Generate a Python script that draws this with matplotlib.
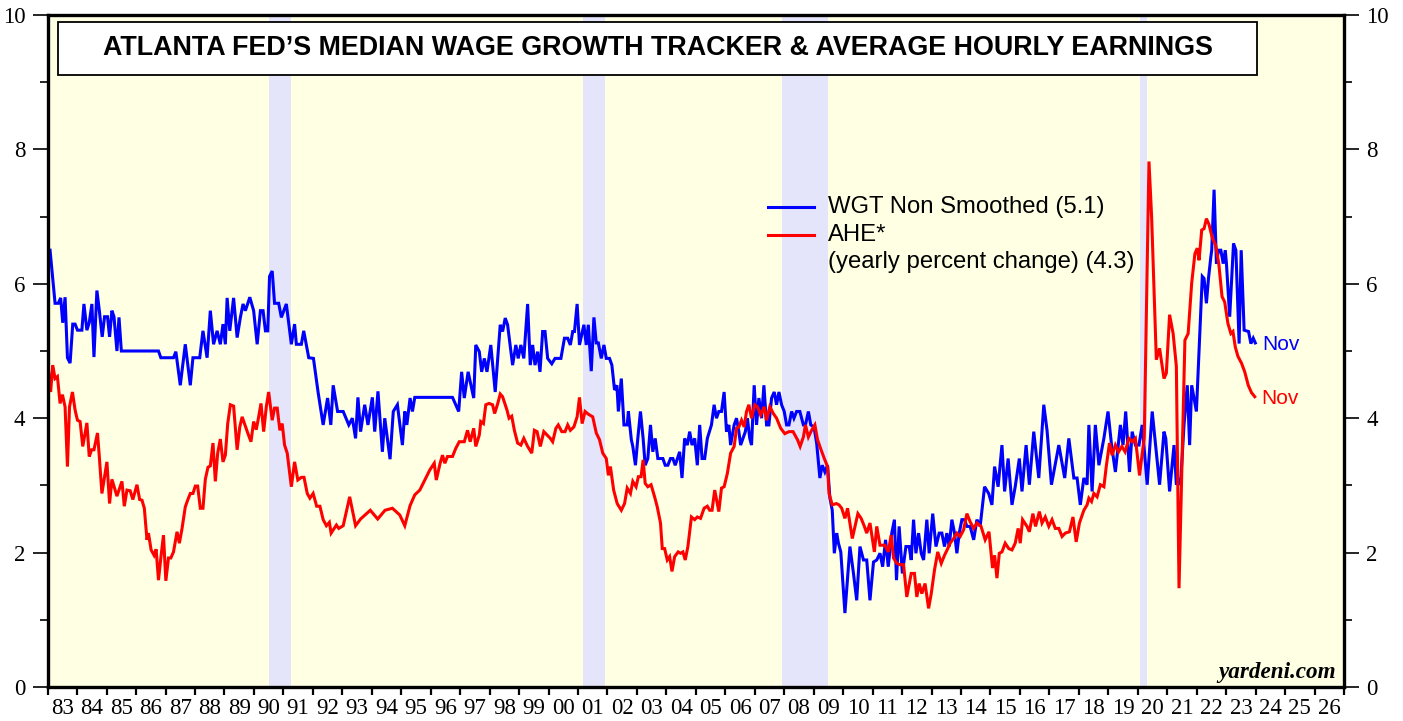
import numpy as np
import matplotlib.pyplot as plt
from matplotlib.patches import Rectangle

# WGT non smoothed (Atlanta Fed), decimal year / percent
wgt_t = [1983.08, 1983.25, 1983.36, 1983.44, 1983.51, 1983.59, 1983.67, 1983.76, 1983.85, 1983.93,
         1984.01, 1984.16, 1984.23, 1984.33, 1984.41, 1984.50, 1984.57, 1984.67, 1984.75, 1984.85,
         1984.93, 1985.03, 1985.10, 1985.18, 1985.25, 1985.35, 1985.42, 1985.50, 1986.76, 1986.84,
         1987.27, 1987.35, 1987.50, 1987.67, 1987.84, 1987.93, 1988.16, 1988.27, 1988.41, 1988.52,
         1988.63, 1988.75, 1988.86, 1988.95, 1989.03, 1989.09, 1989.18, 1989.31, 1989.43, 1989.54,
         1989.63, 1989.71, 1989.86, 1989.99, 1990.11, 1990.22, 1990.31, 1990.39, 1990.47, 1990.53,
         1990.62, 1990.70, 1990.84, 1990.93, 1991.10, 1991.27, 1991.38, 1991.44, 1991.61, 1991.69,
         1991.86, 1992.02, 1992.18, 1992.35, 1992.50, 1992.61, 1992.69, 1992.84, 1993.03, 1993.22,
         1993.34, 1993.45, 1993.53, 1993.62, 1993.76, 1993.87, 1994.02, 1994.10, 1994.21, 1994.36,
         1994.44, 1994.62, 1994.73, 1994.87, 1995.04, 1995.12, 1995.19, 1995.30, 1995.38, 1995.46,
         1996.74, 1996.85, 1996.95, 1997.05, 1997.14, 1997.27, 1997.46, 1997.53, 1997.65, 1997.73,
         1997.82, 1997.91, 1998.04, 1998.19, 1998.36, 1998.44, 1998.53, 1998.61, 1998.78, 1998.89,
         1998.97, 1999.06, 1999.16, 1999.29, 1999.38, 1999.46, 1999.54, 1999.63, 1999.71, 1999.80,
         1999.88, 1999.97, 2000.11, 2000.22, 2000.42, 2000.54, 2000.65, 2000.74, 2000.82, 2000.88,
         2000.97, 2001.05, 2001.20, 2001.28, 2001.35, 2001.45, 2001.54, 2001.62, 2001.69, 2001.79,
         2001.88, 2001.96, 2002.07, 2002.15, 2002.24, 2002.32, 2002.37, 2002.47, 2002.56, 2002.67,
         2002.71, 2002.81, 2002.86, 2002.95, 2003.03, 2003.12, 2003.21, 2003.28, 2003.37, 2003.46,
         2003.54, 2003.62, 2003.71, 2003.88, 2003.96, 2004.05, 2004.14, 2004.22, 2004.30, 2004.45,
         2004.53, 2004.62, 2004.71, 2004.79, 2004.87, 2004.96, 2005.05, 2005.13, 2005.21, 2005.30,
         2005.39, 2005.53, 2005.62, 2005.70, 2005.78, 2005.87, 2005.96, 2006.04, 2006.12, 2006.18,
         2006.30, 2006.38, 2006.46, 2006.52, 2006.60, 2006.68, 2006.75, 2006.83, 2006.89, 2006.98,
         2007.06, 2007.14, 2007.23, 2007.31, 2007.40, 2007.48, 2007.57, 2007.66, 2007.74, 2007.82,
         2007.91, 2008.00, 2008.08, 2008.16, 2008.25, 2008.33, 2008.42, 2008.53, 2008.65, 2008.72,
         2008.82, 2008.90, 2009.01, 2009.10, 2009.21, 2009.29, 2009.38, 2009.47, 2009.55, 2009.63,
         2009.70, 2009.78, 2009.84, 2009.92, 2010.06, 2010.23, 2010.35, 2010.46, 2010.57, 2010.69,
         2010.80, 2010.91, 2011.03, 2011.14, 2011.25, 2011.34, 2011.44, 2011.53, 2011.65, 2011.74,
         2011.81, 2011.90, 2012.01, 2012.13, 2012.24, 2012.31, 2012.39, 2012.47, 2012.56, 2012.65,
         2012.73, 2012.84, 2012.92, 2013.04, 2013.15, 2013.26, 2013.35, 2013.44, 2013.52, 2013.60,
         2013.69, 2013.78, 2013.86, 2013.94, 2014.03, 2014.12, 2014.20, 2014.31, 2014.43, 2014.54,
         2014.65, 2014.80, 2014.94, 2015.05, 2015.14, 2015.26, 2015.39, 2015.48, 2015.60, 2015.73,
         2015.84, 2015.98, 2016.07, 2016.21, 2016.32, 2016.47, 2016.64, 2016.81, 2016.92, 2017.07,
         2017.32, 2017.52, 2017.66, 2017.83, 2017.94, 2018.05, 2018.17, 2018.28, 2018.34, 2018.45,
         2018.56, 2018.68, 2018.85, 2018.99, 2019.11, 2019.24, 2019.41, 2019.50, 2019.59, 2019.72,
         2019.81, 2019.92, 2020.04, 2020.15, 2020.32, 2020.49, 2020.74, 2020.89, 2020.95, 2021.08,
         2021.23, 2021.31, 2021.38, 2021.45, 2021.57, 2021.68, 2021.76, 2021.83, 2021.99, 2022.19,
         2022.25, 2022.33, 2022.40, 2022.48, 2022.51, 2022.59, 2022.67, 2022.74, 2022.82, 2022.90,
         2022.97, 2023.01, 2023.12, 2023.25, 2023.33, 2023.44, 2023.51, 2023.61, 2023.76, 2023.84,
         2023.92, 2023.99]
wgt_v = [6.50, 5.71, 5.71, 5.79, 5.42, 5.80, 4.90, 4.82, 5.40, 5.40,
         5.31, 5.31, 5.70, 5.31, 5.42, 5.70, 4.91, 5.90, 5.61, 5.21,
         5.51, 5.51, 5.21, 5.60, 5.51, 5.00, 5.50, 5.00, 5.00, 4.90,
         4.90, 4.99, 4.49, 5.10, 4.49, 4.90, 4.90, 5.30, 4.90, 5.60,
         5.10, 5.30, 5.10, 5.40, 5.10, 5.79, 5.30, 5.79, 5.20, 5.50,
         5.70, 5.60, 5.80, 5.60, 5.10, 5.60, 5.60, 5.30, 5.30, 6.11,
         6.19, 5.71, 5.71, 5.50, 5.70, 5.10, 5.40, 5.10, 5.10, 5.30,
         4.90, 4.89, 4.38, 3.90, 4.30, 3.90, 4.49, 4.10, 4.10, 3.90,
         4.00, 3.70, 4.31, 3.80, 4.20, 3.90, 4.31, 3.80, 4.40, 3.50,
         4.00, 3.39, 4.10, 4.20, 3.60, 4.10, 3.90, 4.30, 4.10, 4.31,
         4.31, 4.20, 4.10, 4.69, 4.30, 4.69, 4.30, 5.09, 4.99, 4.69,
         4.89, 4.69, 5.09, 4.39, 5.39, 5.29, 5.49, 5.39, 4.79, 5.09,
         4.89, 5.09, 4.89, 5.70, 4.79, 5.09, 4.79, 4.99, 4.69, 5.29,
         5.29, 4.89, 4.81, 4.89, 4.89, 5.19, 5.19, 5.09, 5.29, 5.29,
         5.70, 5.09, 5.39, 5.09, 5.39, 4.70, 5.50, 5.12, 5.12, 4.89,
         5.09, 4.89, 4.89, 4.79, 4.42, 4.49, 4.10, 4.59, 3.90, 3.90,
         4.10, 3.68, 3.58, 3.30, 3.70, 4.10, 3.70, 3.30, 3.40, 3.90,
         3.50, 3.70, 3.40, 3.40, 3.30, 3.30, 3.40, 3.40, 3.30, 3.50,
         3.11, 3.70, 3.60, 3.80, 3.60, 3.70, 3.30, 3.90, 3.40, 3.40,
         3.70, 3.90, 4.20, 4.00, 4.10, 4.10, 4.39, 3.80, 3.90, 3.60,
         3.90, 4.00, 3.80, 3.60, 3.70, 3.80, 4.00, 3.70, 3.60, 4.49,
         3.90, 4.30, 4.00, 4.49, 3.90, 3.90, 4.30, 4.39, 4.20, 4.39,
         4.20, 4.10, 3.90, 3.90, 4.10, 4.00, 4.10, 4.10, 3.90, 3.90,
         4.10, 3.90, 3.87, 3.63, 3.11, 3.30, 3.20, 3.30, 2.81, 2.63,
         1.99, 2.29, 2.14, 2.01, 1.10, 2.09, 1.69, 1.29, 2.09, 1.89,
         1.89, 1.29, 1.86, 1.89, 1.99, 1.79, 2.19, 1.79, 2.29, 2.49,
         1.59, 2.39, 1.69, 2.09, 2.09, 1.89, 2.49, 1.99, 2.29, 1.99,
         1.89, 2.49, 1.99, 2.58, 2.09, 2.29, 2.29, 2.09, 2.29, 2.09,
         2.49, 2.29, 1.99, 2.29, 2.49, 2.49, 2.39, 2.39, 2.19, 2.49,
         2.39, 2.98, 2.88, 2.71, 3.28, 2.98, 3.60, 2.91, 3.40, 2.71,
         2.98, 3.40, 2.91, 3.60, 3.01, 3.80, 3.11, 4.20, 3.82, 3.01,
         3.60, 3.11, 3.70, 3.11, 3.11, 2.71, 3.11, 3.01, 3.90, 2.91,
         3.90, 3.30, 3.70, 4.10, 3.60, 3.20, 3.90, 3.60, 4.10, 3.20,
         3.80, 3.60, 3.60, 3.90, 3.01, 4.10, 3.01, 3.80, 3.70, 2.91,
         3.60, 3.01, 3.08, 3.01, 3.90, 4.49, 3.60, 4.49, 4.10, 6.11,
         6.08, 5.71, 6.08, 6.40, 6.50, 7.40, 6.30, 6.50, 6.50, 6.30,
         6.50, 6.30, 5.51, 6.60, 6.50, 5.11, 6.50, 5.31, 5.29, 5.11,
         5.19, 5.12]

# AHE, yearly percent change
ahe_t = [1983.00, 1983.10, 1983.17, 1983.25, 1983.33, 1983.42, 1983.50, 1983.59, 1983.67, 1983.74,
         1983.84, 1983.93, 1984.01, 1984.10, 1984.19, 1984.33, 1984.41, 1984.49, 1984.57, 1984.69,
         1984.75, 1984.84, 1985.01, 1985.10, 1985.18, 1985.35, 1985.52, 1985.60, 1985.69, 1985.80,
         1985.89, 1986.03, 1986.12, 1986.20, 1986.28, 1986.37, 1986.42, 1986.51, 1986.61, 1986.68,
         1986.76, 1986.84, 1986.93, 1987.01, 1987.10, 1987.18, 1987.27, 1987.39, 1987.47, 1987.56,
         1987.67, 1987.75, 1987.84, 1987.93, 1988.01, 1988.09, 1988.18, 1988.27, 1988.35, 1988.44,
         1988.52, 1988.61, 1988.69, 1988.77, 1988.86, 1988.95, 1989.03, 1989.11, 1989.20, 1989.31,
         1989.43, 1989.52, 1989.60, 1989.71, 1989.79, 1989.90, 1989.99, 1990.08, 1990.16, 1990.24,
         1990.33, 1990.42, 1990.50, 1990.62, 1990.70, 1990.79, 1990.88, 1990.96, 1991.04, 1991.13,
         1991.27, 1991.38, 1991.49, 1991.61, 1991.70, 1991.81, 1991.90, 1992.01, 1992.13, 1992.24,
         1992.35, 1992.46, 1992.56, 1992.62, 1992.71, 1992.80, 1992.88, 1993.03, 1993.25, 1993.45,
         1993.62, 1993.95, 1994.20, 1994.45, 1994.70, 1994.95, 1995.12, 1995.30, 1995.46, 1995.63,
         1995.80, 1995.97, 1996.12, 1996.19, 1996.32, 1996.40, 1996.48, 1996.57, 1996.74, 1996.85,
         1996.97, 1997.14, 1997.25, 1997.34, 1997.46, 1997.53, 1997.65, 1997.70, 1997.79, 1997.87,
         1997.98, 1998.10, 1998.17, 1998.27, 1998.36, 1998.44, 1998.59, 1998.66, 1998.75, 1998.84,
         1998.95, 1999.06, 1999.16, 1999.29, 1999.43, 1999.52, 1999.61, 1999.72, 1999.84, 1999.95,
         2000.06, 2000.14, 2000.25, 2000.33, 2000.45, 2000.56, 2000.65, 2000.74, 2000.86, 2000.97,
         2001.05, 2001.14, 2001.24, 2001.35, 2001.50, 2001.62, 2001.73, 2001.84, 2001.96, 2002.03,
         2002.10, 2002.21, 2002.33, 2002.47, 2002.58, 2002.67, 2002.78, 2002.86, 2002.97, 2003.05,
         2003.14, 2003.21, 2003.28, 2003.37, 2003.48, 2003.60, 2003.69, 2003.80, 2003.86, 2003.94,
         2004.03, 2004.11, 2004.19, 2004.28, 2004.40, 2004.48, 2004.56, 2004.64, 2004.73, 2004.85,
         2004.96, 2005.05, 2005.16, 2005.28, 2005.39, 2005.47, 2005.55, 2005.64, 2005.78, 2005.87,
         2005.96, 2006.07, 2006.18, 2006.30, 2006.38, 2006.46, 2006.55, 2006.64, 2006.72, 2006.80,
         2006.89, 2007.00, 2007.09, 2007.20, 2007.32, 2007.40, 2007.51, 2007.63, 2007.74, 2007.88,
         2008.02, 2008.16, 2008.30, 2008.45, 2008.54, 2008.65, 2008.72, 2008.82, 2008.93, 2009.04,
         2009.13, 2009.25, 2009.36, 2009.47, 2009.52, 2009.63, 2009.77, 2009.86, 2009.95, 2010.06,
         2010.15, 2010.31, 2010.50, 2010.61, 2010.72, 2010.80, 2010.91, 2011.06, 2011.14, 2011.25,
         2011.42, 2011.53, 2011.63, 2011.71, 2011.82, 2011.93, 2012.05, 2012.16, 2012.31, 2012.42,
         2012.50, 2012.58, 2012.67, 2012.78, 2012.90, 2012.99, 2013.10, 2013.21, 2013.33, 2013.44,
         2013.55, 2013.63, 2013.75, 2013.86, 2013.97, 2014.09, 2014.20, 2014.31, 2014.43, 2014.54,
         2014.68, 2014.82, 2014.95, 2015.07, 2015.14, 2015.22, 2015.30, 2015.39, 2015.50, 2015.62,
         2015.73, 2015.84, 2015.94, 2016.01, 2016.09, 2016.24, 2016.32, 2016.44, 2016.53, 2016.66,
         2016.75, 2016.86, 2016.98, 2017.09, 2017.20, 2017.32, 2017.43, 2017.54, 2017.68, 2017.80,
         2017.91, 2018.02, 2018.17, 2018.28, 2018.34, 2018.43, 2018.51, 2018.62, 2018.73, 2018.85,
         2018.93, 2019.04, 2019.13, 2019.24, 2019.35, 2019.46, 2019.57, 2019.70, 2019.81, 2019.92,
         2020.06, 2020.10, 2020.22, 2020.38, 2020.47, 2020.55, 2020.63, 2020.74, 2020.89, 2020.97,
         2021.08, 2021.20, 2021.31, 2021.40, 2021.60, 2021.71, 2021.83, 2021.94, 2022.02, 2022.08,
         2022.17, 2022.25, 2022.33, 2022.42, 2022.53, 2022.64, 2022.75, 2022.86, 2022.95, 2023.06,
         2023.16, 2023.23, 2023.31, 2023.40, 2023.52, 2023.63, 2023.75, 2023.86, 2023.97]
ahe_v = [4.83, 4.39, 4.79, 4.59, 4.62, 4.22, 4.35, 4.17, 3.28, 4.17,
         4.39, 4.12, 3.97, 3.95, 3.58, 3.93, 3.43, 3.53, 3.53, 3.78,
         3.44, 2.88, 3.35, 2.73, 3.09, 2.84, 3.06, 2.69, 2.93, 2.92,
         2.79, 3.01, 2.79, 2.78, 2.66, 2.19, 2.29, 2.04, 1.96, 2.05,
         1.59, 1.92, 2.26, 1.58, 1.92, 1.92, 2.01, 2.31, 2.14, 2.36,
         2.68, 2.78, 2.88, 2.88, 2.99, 2.99, 2.66, 2.66, 3.09, 3.27,
         3.29, 3.63, 3.06, 3.48, 3.69, 3.35, 3.45, 3.92, 4.20, 4.18,
         3.53, 3.87, 4.02, 3.88, 3.78, 3.65, 3.95, 3.83, 4.02, 4.22,
         3.80, 4.17, 4.39, 3.97, 4.15, 4.15, 3.82, 3.92, 3.60, 3.48,
         2.98, 3.35, 3.08, 3.12, 3.12, 2.88, 2.81, 2.88, 2.69, 2.69,
         2.49, 2.40, 2.45, 2.29, 2.35, 2.41, 2.36, 2.40, 2.83, 2.40,
         2.50, 2.63, 2.50, 2.63, 2.66, 2.56, 2.40, 2.70, 2.86, 2.93,
         3.08, 3.23, 3.33, 3.08, 3.33, 3.45, 3.33, 3.43, 3.43, 3.55,
         3.65, 3.65, 3.82, 3.65, 3.85, 3.58, 3.75, 3.95, 3.92, 4.20,
         4.22, 4.20, 4.07, 4.21, 4.36, 4.32, 4.12, 4.00, 4.03, 3.82,
         3.63, 3.60, 3.70, 3.58, 3.48, 3.82, 3.80, 3.58, 3.80, 3.75,
         3.70, 3.65, 3.85, 3.90, 3.80, 3.80, 3.90, 3.82, 3.87, 4.02,
         4.31, 3.92, 4.10, 4.06, 4.02, 3.78, 3.68, 3.48, 3.40, 3.15,
         3.28, 2.93, 2.73, 2.63, 2.73, 2.96, 2.88, 3.06, 2.98, 3.13,
         3.13, 3.38, 3.03, 2.98, 3.01, 2.83, 2.68, 2.44, 2.06, 2.06,
         1.89, 1.94, 1.72, 1.94, 2.01, 1.99, 2.01, 1.89, 2.09, 2.53,
         2.49, 2.53, 2.51, 2.66, 2.69, 2.63, 2.63, 2.93, 2.61, 2.96,
         2.98, 3.18, 3.48, 3.58, 3.85, 3.87, 3.97, 3.87, 4.10, 4.20,
         4.00, 4.20, 4.17, 4.05, 4.17, 3.97, 4.17, 4.07, 4.00, 3.85,
         3.77, 3.80, 3.80, 3.68, 3.58, 3.72, 3.90, 3.72, 3.82, 3.90,
         3.68, 3.53, 3.40, 3.28, 2.88, 2.71, 2.73, 2.71, 2.66, 2.51,
         2.66, 2.21, 2.58, 2.51, 2.39, 2.29, 2.44, 2.01, 2.39, 2.11,
         2.11, 2.01, 2.26, 1.92, 1.84, 1.82, 1.82, 1.34, 1.69, 1.69,
         1.34, 1.54, 1.39, 1.54, 1.17, 1.39, 1.74, 2.01, 1.84, 1.96,
         2.06, 2.14, 2.21, 2.29, 2.24, 2.34, 2.58, 2.46, 2.36, 2.44,
         2.39, 2.19, 2.31, 1.77, 1.96, 1.62, 1.99, 2.01, 2.14, 2.06,
         2.04, 2.14, 2.36, 2.14, 2.49, 2.39, 2.31, 2.58, 2.39, 2.61,
         2.44, 2.53, 2.39, 2.49, 2.36, 2.36, 2.24, 2.29, 2.31, 2.53,
         2.16, 2.44, 2.63, 2.71, 2.81, 2.76, 2.88, 2.83, 3.01, 2.98,
         3.28, 3.63, 3.45, 3.60, 3.50, 3.58, 3.50, 3.70, 3.65, 3.70,
         3.15, 3.30, 3.70, 7.82, 7.00, 5.91, 4.87, 5.04, 4.59, 4.67,
         5.54, 5.26, 4.77, 1.47, 5.16, 5.26, 6.01, 6.45, 6.53, 6.35,
         6.80, 6.82, 6.97, 6.88, 6.68, 6.58, 6.30, 5.81, 5.73, 5.41,
         5.26, 5.29, 5.06, 4.92, 4.82, 4.69, 4.49, 4.38, 4.32]

recessions = [(1990.50, 1991.25), (2001.17, 2001.92), (2007.92, 2009.50), (2020.08, 2020.33)]
years = list(range(1983, 2027))
last_wgt = 5.1
last_ahe = 4.3

BG = '#FFFFE3'
REC = '#E4E4FA'
BLUE = '#0000FF'
RED = '#FF0000'
sans = 'Liberation Sans'
serif = 'Liberation Serif'

fig = plt.figure(figsize=(14.03, 7.21), dpi=100)
ax = fig.add_axes([47.7 / 1403, 1 - 687 / 721, (1344 - 47.7) / 1403, 672 / 721])
ax.set_facecolor(BG)

for a, b in recessions:
    ax.axvspan(a, b, color=REC, lw=0, zorder=1)

ax.plot(wgt_t, wgt_v, color=BLUE, lw=2.2, zorder=3, solid_joinstyle='miter')
ax.plot(ahe_t, ahe_v, color=RED, lw=2.2, zorder=3, solid_joinstyle='miter')

ax.set_xlim(1983, 2027)
ax.set_ylim(0, 10)

# y axis both sides
ax.set_yticks(np.arange(0, 11, 2))
ax.set_yticks(np.arange(1, 10, 2), minor=True)
ax.tick_params(axis='y', which='major', direction='out', length=11, width=1.2,
               left=True, right=True, labelleft=True, labelright=True, pad=5,
               labelsize=16.5)
ax.tick_params(axis='y', which='minor', direction='out', length=5.5, width=1.2,
               left=True, right=True)

# x axis: ticks at year boundaries, labels centered in the year
ax.set_xticks(years + [2027])
ax.set_xticklabels([])
ax.set_xticks([y + 0.5 for y in years], minor=True)
ax.set_xticklabels([str(y)[2:] for y in years], minor=True)
ax.tick_params(axis='x', which='major', direction='out', length=6, width=1.6, top=False)
ax.tick_params(axis='x', which='minor', length=0, pad=8, labelsize=16.5)

for lab in ax.get_xticklabels(minor=True) + ax.yaxis.get_majorticklabels():
    lab.set_fontfamily(serif)
for lab in ax.yaxis.get_ticklabels(which='major'):
    lab.set_fontfamily(serif)
for t in ax.yaxis.get_major_ticks():
    t.label2.set_fontfamily(serif)

for s in ax.spines.values():
    s.set_linewidth(2.4)
    s.set_zorder(5)

# title box
ax.add_patch(Rectangle((0.008, 0.9107), 0.925, 0.0789, transform=ax.transAxes,
                       facecolor='white', edgecolor='black', lw=1.3, zorder=6))
ax.text(0.4705, 0.951, 'ATLANTA FED\u2019S MEDIAN WAGE GROWTH TRACKER & AVERAGE HOURLY EARNINGS',
        transform=ax.transAxes, ha='center', va='center', fontsize=19.4,
        fontweight='bold', family=sans, zorder=7)

# legend
ax.plot([0.556, 0.5908], [0.7143, 0.7143], transform=ax.transAxes, color=BLUE, lw=2.2, zorder=6)
ax.plot([0.556, 0.5908], [0.6726, 0.6726], transform=ax.transAxes, color=RED, lw=2.2, zorder=6)
ax.text(0.6017, 0.7143, f'WGT Non Smoothed ({last_wgt})', transform=ax.transAxes,
        ha='left', va='center', fontsize=17.2, family=sans, zorder=6)
ax.text(0.6017, 0.6726, 'AHE*', transform=ax.transAxes,
        ha='left', va='center', fontsize=17.2, family=sans, zorder=6)
ax.text(0.6017, 0.6324, f'(yearly percent change) ({last_ahe})', transform=ax.transAxes,
        ha='left', va='center', fontsize=17.2, family=sans, zorder=6)

# end labels
ax.text(wgt_t[-1] + 0.22, 5.09, 'Nov', color=BLUE, fontsize=15, family=sans,
        ha='left', va='center', zorder=6)
ax.text(ahe_t[-1] + 0.22, 4.30, 'Nov', color=RED, fontsize=15, family=sans,
        ha='left', va='center', zorder=6)

ax.text(0.9936, 0.022, 'yardeni.com', transform=ax.transAxes, ha='right', va='center',
        fontsize=16.7, fontweight='bold', fontstyle='italic', family=serif, zorder=6)

fig.savefig('out.png', dpi=100)
